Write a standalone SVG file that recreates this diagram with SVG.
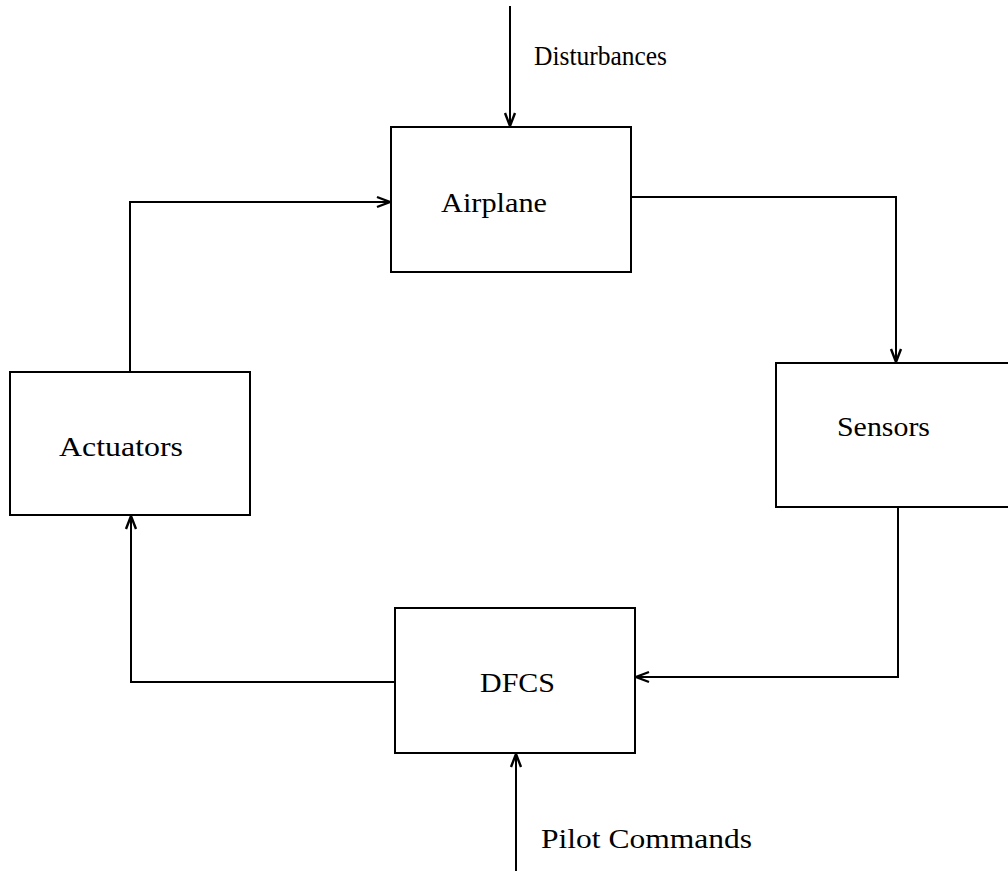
<svg xmlns="http://www.w3.org/2000/svg" width="1008" height="871" viewBox="0 0 1008 871">
<style>
.box{fill:none;stroke:#000;stroke-width:2}
.wire{fill:none;stroke:#000;stroke-width:2;marker-end:url(#arr)}
.lbl{font-family:"Liberation Serif","Times New Roman",serif;font-size:28px;fill:#000}
</style>
<defs>
<marker id="arr" markerUnits="userSpaceOnUse" markerWidth="16" markerHeight="14" viewBox="-14 -7 16 14" refX="0" refY="0" orient="auto">
<path d="M-13,-5 L0,0 L-13,5" fill="none" stroke="#000" stroke-width="2.4"/>
</marker>
</defs>
<rect width="1008" height="871" fill="#fff"/>
<g id="airplane">
<rect class="box" x="391" y="127" width="240" height="145"/>
<text class="lbl" x="441" y="212" textLength="106" lengthAdjust="spacingAndGlyphs">Airplane</text>
</g>
<g id="actuators">
<rect class="box" x="10" y="372" width="240" height="143"/>
<text class="lbl" x="59" y="456" textLength="124" lengthAdjust="spacingAndGlyphs">Actuators</text>
</g>
<g id="sensors">
<path class="box" d="M1010,363 L776,363 L776,507 L1010,507"/>
<text class="lbl" x="837" y="436" textLength="93" lengthAdjust="spacingAndGlyphs">Sensors</text>
</g>
<g id="dfcs">
<rect class="box" x="395" y="608" width="240" height="145"/>
<text class="lbl" x="480" y="692" textLength="75" lengthAdjust="spacingAndGlyphs">DFCS</text>
</g>
<g id="labels">
<text class="lbl" x="534" y="65" textLength="133" lengthAdjust="spacingAndGlyphs">Disturbances</text>
<text class="lbl" x="541" y="848" textLength="211" lengthAdjust="spacingAndGlyphs">Pilot Commands</text>
</g>
<g id="connectors">
<path class="wire" d="M130,372 L130,202 L390,202"/>
<path class="wire" d="M631,197 L896,197 L896,362"/>
<path class="wire" d="M898,507 L898,677 L636,677"/>
<path class="wire" d="M395,682 L131,682 L131,516"/>
<path class="wire" d="M510,6 L510,126"/>
<path class="wire" d="M516,871 L516,754"/>
</g>
</svg>
